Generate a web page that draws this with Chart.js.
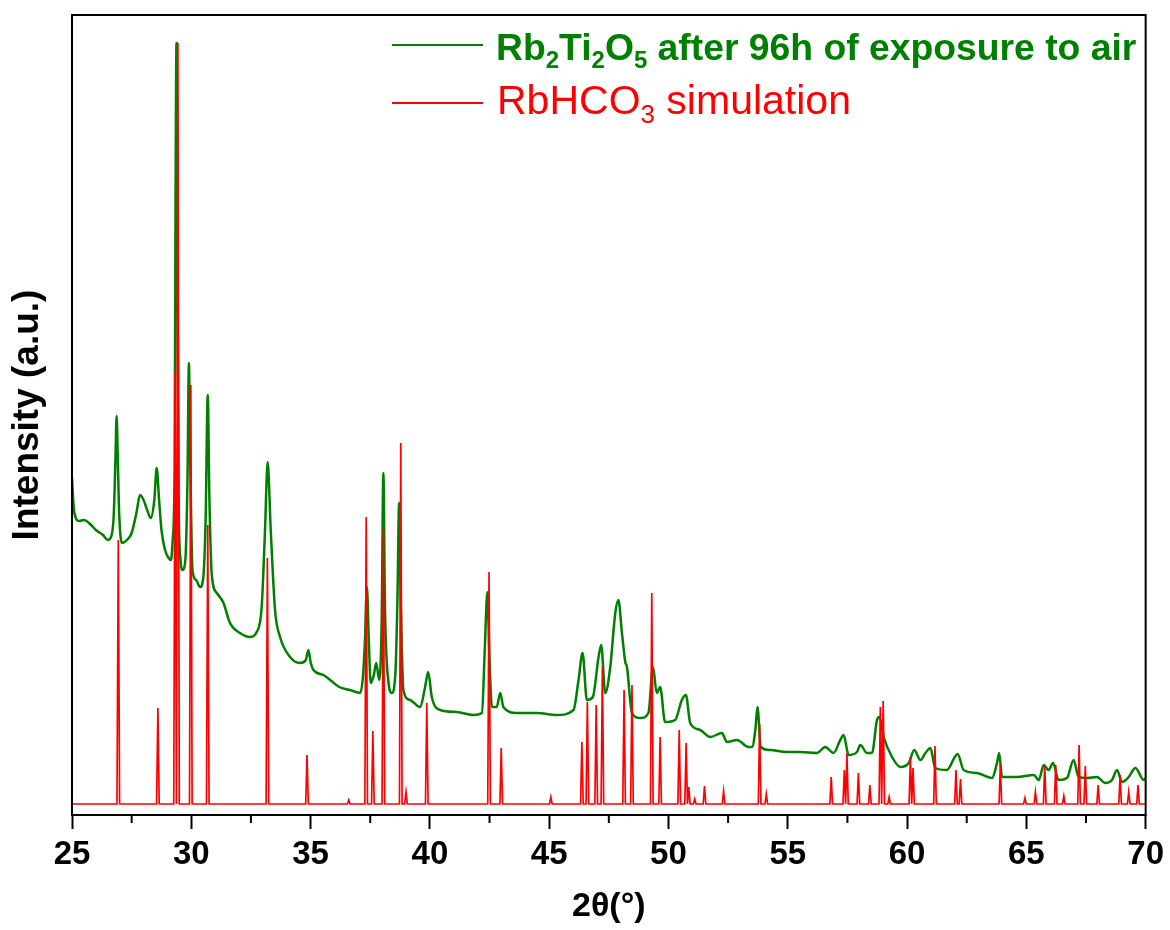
<!DOCTYPE html>
<html>
<head>
<meta charset="utf-8">
<script src="https://cdn.jsdelivr.net/npm/chart.js@4.4.0/dist/chart.umd.min.js"></script>
<style>
  html, body { margin: 0; padding: 0; background: #fff; }
  #wrap { width: 1170px; height: 930px; }
</style>
</head>
<body>
<div id="wrap"><canvas id="xrd" width="1170" height="930"></canvas></div>
<script>
// XRD: Rb2Ti2O5 aged 96h in air vs simulated RbHCO3
const FONT = "'Liberation Sans', Arial, sans-serif";
const GREEN = '#008000';
const RED = '#ff0000';

// measured pattern (2theta in degrees, intensity in arbitrary units)
const measTheta = [
  25.00, 25.05, 25.10, 25.30, 25.50, 25.80, 26.00, 26.30, 26.50, 26.65, 26.75, 26.82, 26.87, 26.92, 26.98,
  27.10, 27.30, 27.50, 27.70, 27.85, 28.00, 28.15, 28.30, 28.45, 28.55, 28.65, 28.75, 28.90, 29.05, 29.15,
  29.22, 29.30, 29.34, 29.38, 29.42, 29.47, 29.55, 29.63, 29.75, 29.84, 29.90, 29.96, 30.05, 30.20, 30.37,
  30.50, 30.60, 30.69, 30.76, 30.86, 31.07, 31.35, 31.62, 32.04, 32.46, 32.74, 32.95, 33.09, 33.20, 33.33,
  33.51, 33.72, 34.14, 34.56, 34.80, 34.91, 35.00, 35.12, 35.54, 35.82, 36.20, 36.66, 37.08, 37.20, 37.28,
  37.36, 37.44, 37.52, 37.65, 37.75, 37.88, 37.98, 38.05, 38.12, 38.27, 38.40, 38.55, 38.64, 38.71, 38.78,
  38.89, 39.17, 39.59, 39.80, 39.93, 40.08, 40.43, 41.13, 41.83, 42.18, 42.30, 42.41, 42.50, 42.60, 42.80,
  42.95, 43.08, 43.64, 44.48, 45.32, 46.02, 46.23, 46.40, 46.58, 46.83, 47.07, 47.18, 47.35, 47.56, 47.77,
  47.90, 48.05, 48.19, 48.26, 48.47, 48.82, 49.16, 49.35, 49.51, 49.65, 49.86, 50.28, 50.56, 50.73, 50.91,
  51.33, 51.75, 52.24, 52.45, 52.87, 53.36, 53.50, 53.64, 53.73, 53.87, 54.26, 54.96, 55.52, 56.22, 56.57,
  56.92, 57.20, 57.34, 57.55, 57.90, 58.04, 58.32, 58.53, 58.74, 58.84, 59.02, 59.37, 59.72, 60.07, 60.30,
  60.56, 60.77, 60.98, 61.18, 61.67, 61.98, 62.12, 62.37, 62.93, 63.56, 63.77, 63.86, 63.98, 64.61, 65.31,
  65.52, 65.73, 65.93, 66.12, 66.35, 66.70, 66.98, 67.19, 67.54, 67.96, 68.31, 68.59, 68.80, 69.01, 69.29,
  69.57, 69.92, 70.00
];
const measIntensity = [
  338, 315, 302, 294, 295, 290, 285, 280, 275, 279, 300, 355, 399, 355, 300,
  272, 275, 282, 302, 320, 315, 305, 297, 315, 347, 315, 285, 265, 257, 255,
  275, 345, 615, 772, 565, 315, 255, 245, 255, 335, 452, 345, 245, 235, 228,
  237, 295, 420, 315, 240, 222, 212, 192, 182, 178, 183, 208, 285, 353, 285,
  205, 178, 158, 152, 155, 165, 153, 145, 140, 135, 128, 125, 122, 140, 175,
  228, 175, 132, 140, 152, 135, 195, 342, 205, 132, 122, 140, 215, 312, 215,
  125, 115, 108, 128, 143, 118, 105, 103, 100, 102, 165, 223, 155, 108, 108,
  122, 108, 102, 102, 100, 105, 135, 162, 115, 118, 158, 170, 122, 148, 202,
  215, 182, 153, 148, 102, 97, 102, 148, 122, 128, 93, 95, 115, 120, 92,
  85, 78, 82, 73, 75, 68, 68, 85, 108, 68, 65, 63, 63, 62, 68,
  62, 75, 80, 60, 63, 70, 62, 62, 95, 98, 78, 58, 48, 52, 65,
  55, 62, 67, 47, 45, 57, 61, 45, 42, 37, 52, 62, 38, 38, 40,
  35, 50, 45, 52, 35, 37, 55, 38, 37, 38, 32, 35, 45, 33, 38,
  47, 35, 37
];

// simulated RbHCO3 reflections: position and peak height
const simTheta = [
  26.94, 28.60, 29.32, 29.44, 29.98, 30.69, 33.19, 34.85, 36.60, 37.33, 37.61, 38.05, 38.78, 39.00, 39.87,
  42.48, 42.99, 45.07, 46.37, 46.60, 46.97, 47.23, 48.14, 48.47, 49.30, 49.65, 50.45, 50.74, 50.85, 51.10,
  51.51, 52.31, 53.82, 54.10, 56.82, 57.37, 57.48, 57.96, 58.44, 58.88, 59.00, 59.25, 60.14, 60.25, 61.17,
  62.05, 62.24, 63.91, 64.94, 65.38, 65.77, 66.23, 66.57, 67.21, 67.47, 68.01, 68.93, 69.29, 69.68
];
const simHeight = [
  275, 107, 443, 772, 430, 290, 257, 60, 15, 298, 84, 286, 372, 23, 112,
  243, 67, 18, 73, 113, 110, 148, 125, 130, 222, 78, 85, 72, 28, 16,
  29, 24, 91, 21, 38, 45, 62, 42, 30, 108, 114, 18, 58, 47, 69,
  45, 36, 51, 17, 23, 50, 50, 19, 70, 49, 30, 40, 23, 30
];
const simBaseline = 11;

const xTicks = [25, 30, 35, 40, 45, 50, 55, 60, 65, 70];
const xMinorTicks = [27.5, 32.5, 37.5, 42.5, 47.5, 52.5, 57.5, 62.5, 67.5];

const measPoints = measTheta.map((t, i) => ({ x: t, y: measIntensity[i] }));

const simPoints = [{ x: 25, y: simBaseline }];
simTheta.forEach((t, i) => {
  simPoints.push({ x: t - 0.055, y: simBaseline });
  simPoints.push({ x: t, y: simHeight[i] });
  simPoints.push({ x: t + 0.055, y: simBaseline });
});
simPoints.push({ x: 70, y: simBaseline });

// text pieces with subscripts: [text, isSub]
function drawRich(ctx, parts, x, y, size, weight, color) {
  ctx.save();
  ctx.fillStyle = color;
  ctx.textBaseline = 'alphabetic';
  ctx.textAlign = 'left';
  let cx = x;
  parts.forEach(([txt, sub]) => {
    const s = sub ? Math.round(size * 0.64) : size;
    ctx.font = weight + ' ' + s + 'px ' + FONT;
    ctx.fillText(txt, cx, sub ? y + size * 0.22 : y);
    cx += ctx.measureText(txt).width;
  });
  ctx.restore();
}

const framePlugin = {
  id: 'frame',
  afterDraw(chart) {
    const { ctx, chartArea: a, scales } = chart;
    ctx.save();
    ctx.strokeStyle = '#000';
    ctx.lineWidth = 2;
    ctx.strokeRect(a.left, a.top, a.right - a.left, a.bottom - a.top);
    // minor ticks
    ctx.beginPath();
    xMinorTicks.forEach(v => {
      const px = scales.x.getPixelForValue(v);
      ctx.moveTo(px, a.bottom);
      ctx.lineTo(px, a.bottom + 8);
    });
    ctx.stroke();
    // legend
    ctx.lineWidth = 2;
    ctx.strokeStyle = GREEN;
    ctx.beginPath(); ctx.moveTo(392, 45); ctx.lineTo(483, 45); ctx.stroke();
    ctx.strokeStyle = RED;
    ctx.beginPath(); ctx.moveTo(392, 103); ctx.lineTo(483, 103); ctx.stroke();
    ctx.restore();
    drawRich(ctx, [['Rb', 0], ['2', 1], ['Ti', 0], ['2', 1], ['O', 0], ['5', 1], [' after 96h of exposure to air', 0]],
      496, 60, 37.3, 'bold', GREEN);
    drawRich(ctx, [['RbHCO', 0], ['3', 1], [' simulation', 0]], 497, 114, 41, 'normal', RED);
  }
};

new Chart(document.getElementById('xrd'), {
  type: 'line',
  data: {
    datasets: [{
      label: 'Rb2Ti2O5 after 96h of exposure to air',
      data: measPoints,
      borderColor: GREEN,
      borderWidth: 2.5,
      pointRadius: 0,
      cubicInterpolationMode: 'monotone',
      order: 1
    }, {
      label: 'RbHCO3 simulation',
      data: simPoints,
      borderColor: RED,
      borderWidth: 1.7,
      pointRadius: 0,
      tension: 0,
      order: 0
    }]
  },
  options: {
    responsive: false,
    animation: false,
    devicePixelRatio: 1,
    layout: { padding: { top: 15, right: 7, left: 0, bottom: 0 } },
    plugins: { legend: { display: false }, tooltip: { enabled: false } },
    scales: {
      x: {
        type: 'linear',
        min: 25,
        max: 70,
        afterBuildTicks: scale => { scale.ticks = xTicks.map(v => ({ value: v })); },
        afterFit: scale => { scale.height = 115; },
        ticks: {
          color: '#000',
          padding: 6,
          maxRotation: 0,
          font: { family: FONT, size: 33, weight: 'bold' }
        },
        grid: {
          display: true,
          drawOnChartArea: false,
          drawTicks: true,
          tickLength: 14,
          tickWidth: 2,
          tickColor: '#000'
        },
        border: { display: false },
        title: {
          display: true,
          text: '2θ(°)',
          color: '#000',
          padding: { top: 0, bottom: 3 },
          font: { family: FONT, size: 34, weight: 'bold' }
        }
      },
      y: {
        min: 0,
        max: 800,
        afterFit: scale => { scale.width = 72; },
        ticks: { display: false },
        grid: { display: false },
        border: { display: false },
        title: {
          display: true,
          text: 'Intensity (a.u.)',
          color: '#000',
          padding: { top: 6, bottom: 0 },
          font: { family: FONT, size: 37, weight: 'bold' }
        }
      }
    }
  },
  plugins: [framePlugin]
});
</script>
</body>
</html>
